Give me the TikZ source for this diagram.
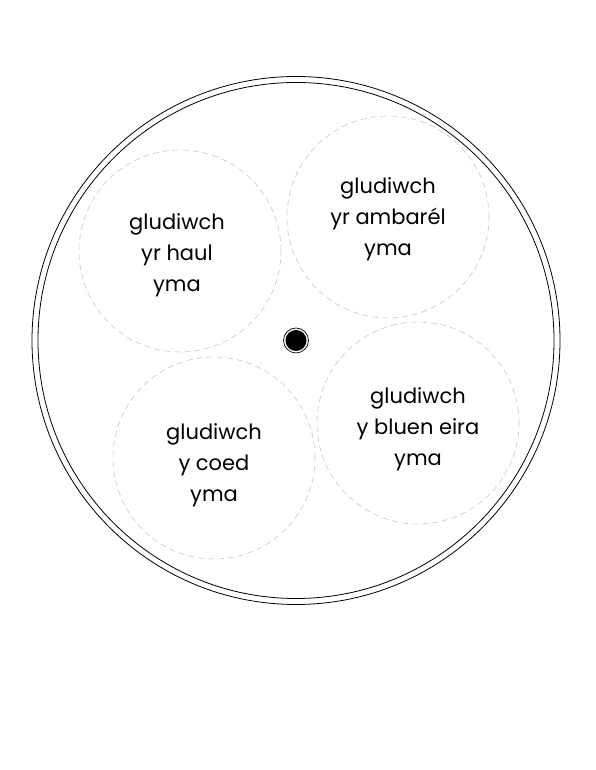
\documentclass[tikz,border=0pt]{standalone}
\usepackage{fontspec}
\newfontfamily\padfont{Poppins}
\usetikzlibrary{calc}

\tikzset{
  pad/.style={circle, draw=black!22, dash pattern=on 6pt off 4pt, line width=0.6pt,
    minimum size=202pt, inner sep=0pt},
  padtext/.style={align=center, inner sep=0pt,
    font=\padfont\fontsize{21}{31}\selectfont},
  rim/.style={line width=0.8pt}
}

\begin{document}
\begin{tikzpicture}[x=1pt,y=1pt]
\useasboundingbox (0,0) rectangle (595,770);
\coordinate (O) at (296,429.5);

% rim of the wheel
\draw[rim] (O) circle (264);
\draw[rim] (O) circle (258);

% the four pads
\node[pad] (haul) at (180,519) {};
\node[pad] (ambarel) at (388,553) {};
\node[pad] (coed) at (214,312) {};
\node[pad] (eira) at (418,347) {};

\node[padtext] (haultext) at ($(haul)+(-3,-4)$) {gludiwch\\yr haul\\yma};
\node[padtext] (ambareltext) at ($(ambarel)+(0,-2)$) {gludiwch\\yr ambarél\\yma};
\node[padtext] (coedtext) at ($(coed)+(0,-7)$) {gludiwch\\y coed\\yma};
\node[padtext] (eiratext) at ($(eira)+(0,-6)$) {gludiwch\\y bluen eira\\yma};

% hole in the middle
\fill (O) circle (10.5);
\draw[line width=0.7pt] (O) circle (12.5);
\end{tikzpicture}
\end{document}
